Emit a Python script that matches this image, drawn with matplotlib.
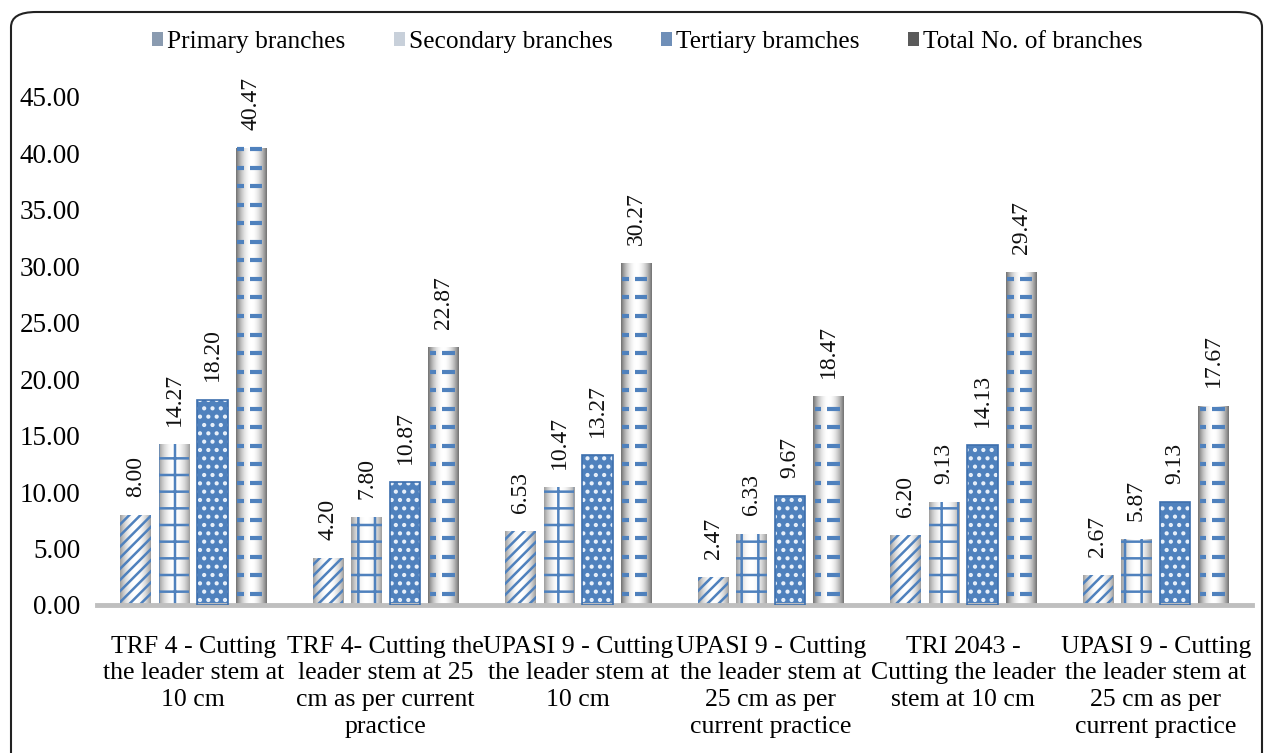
import numpy as np
import matplotlib
matplotlib.use("Agg")
import matplotlib.pyplot as plt
from matplotlib.patches import FancyBboxPatch, Patch

categories = [
    "TRF 4 - Cutting\nthe leader stem at\n10 cm",
    "TRF 4- Cutting the\nleader stem at 25\ncm as per current\npractice",
    "UPASI 9 - Cutting\nthe leader stem at\n10 cm",
    "UPASI 9 - Cutting\nthe leader stem at\n25 cm as per\ncurrent practice",
    "TRI 2043 -\nCutting the leader\nstem at 10 cm",
    "UPASI 9 - Cutting\nthe leader stem at\n25 cm as per\ncurrent practice",
]
series_names = ["Primary branches", "Secondary branches", "Tertiary bramches", "Total No. of branches"]
primary = [8.00, 4.20, 6.53, 2.47, 6.20, 2.67]
secondary = [14.27, 7.80, 10.47, 6.33, 9.13, 5.87]
tertiary = [18.20, 10.87, 13.27, 9.67, 14.13, 9.13]
total = [40.47, 22.87, 30.27, 18.47, 29.47, 17.67]
yticks = [0, 5, 10, 15, 20, 25, 30, 35, 40, 45]

plt.rcParams['font.family'] = ['Liberation Serif', 'DejaVu Serif']
plt.rcParams['hatch.linewidth'] = 1.8

fig = plt.figure(figsize=(12.64, 7.53), dpi=100)
ax = fig.add_axes([97/1264, 1-605/753, (1252-97)/1264, (605-97)/753])
ax.set_xlim(-0.5, len(categories)-0.5)
ax.set_ylim(0, 45)

blue = '#4f81bd'
x = np.arange(len(categories))
width = 0.157
offsets = [-0.3, -0.1, 0.1, 0.3]
all_series = [primary, secondary, tertiary, total]

g = np.linspace(-1, 1, 64)
shade = 1 - 0.38 * np.abs(g) ** 2.2
grad = np.tile(shade, (2, 1))
shade2 = 1 - 0.55 * np.abs(g) ** 2.0
grad2 = np.tile(shade2, (2, 1))

for si, vals in enumerate(all_series):
    xs = x + offsets[si]
    for xi, v in zip(xs, vals):
        x0, x1 = xi - width/2, xi + width/2
        if si == 2:
            ax.bar(xi, v, width, color=blue, edgecolor='#e8f0fa', hatch='..', linewidth=0, zorder=2)
            ax.bar(xi, v, width, color='none', edgecolor='#3d6fae', linewidth=1.2, zorder=3)
        else:
            im = ax.imshow(grad2 if si == 3 else grad, extent=[x0, x1, 0, v], cmap='gray',
                           vmin=0, vmax=1, aspect='auto', zorder=1, interpolation='bilinear')
            if si == 0:
                b = ax.bar(xi, v, width, color='none', edgecolor=blue, hatch='///', linewidth=0, zorder=2)
            elif si == 1:
                b = ax.bar(xi, v, width, color='none', edgecolor=blue, hatch='+', linewidth=0, zorder=2)
            else:
                b = ax.bar(xi, v, width, color='none', edgecolor='none', linewidth=0, zorder=2)
                step = 1.64
                ys = np.arange(1.0, v, step)
                ax.hlines(ys, x0 + 0.008, x0 + 0.04, color=blue, linewidth=3, zorder=3)
                ax.hlines(ys, x1 - 0.085, x1 - 0.02, color=blue, linewidth=3, zorder=3)
            im.set_clip_path(b.patches[0])
        ax.text(xi, v + 1.6, f"{v:.2f}", rotation=90, ha='center', va='bottom', fontsize=17, color='#111111')

for s in ['top', 'right', 'left']:
    ax.spines[s].set_visible(False)
ax.spines['bottom'].set_color('#bfbfbf')
ax.spines['bottom'].set_linewidth(3.5)
ax.set_yticks(yticks)
ax.set_yticklabels([f"{t:.2f}" for t in yticks], fontsize=19.5)
ax.set_xticks(x)
ax.set_xticklabels(categories, fontsize=18.5, linespacing=1.28)
ax.tick_params(axis='both', length=0)
ax.tick_params(axis='x', pad=22)
ax.tick_params(axis='y', pad=12)

handles = [
    Patch(facecolor='#8a9bb0', edgecolor='none'),
    Patch(facecolor='#c8d0da', edgecolor='none'),
    Patch(facecolor='#6f8fb8', edgecolor='none'),
    Patch(facecolor='#5a5a5a', edgecolor='none'),
]
fig.legend(handles, series_names, loc='center', bbox_to_anchor=(0.512, 1-42/753), ncol=4,
           frameon=False, fontsize=18.3, handlelength=0.45, handleheight=0.5,
           handletextpad=0.15, columnspacing=1.9)

border = FancyBboxPatch((11/1264, -0.05), (1262-11)/1264, (753-12)/753 + 0.05,
                        boxstyle="round,pad=0,rounding_size=0.02", transform=fig.transFigure,
                        facecolor='none', edgecolor='#222222', linewidth=1.5)
fig.patches.append(border)

fig.savefig("out.png", dpi=100)
